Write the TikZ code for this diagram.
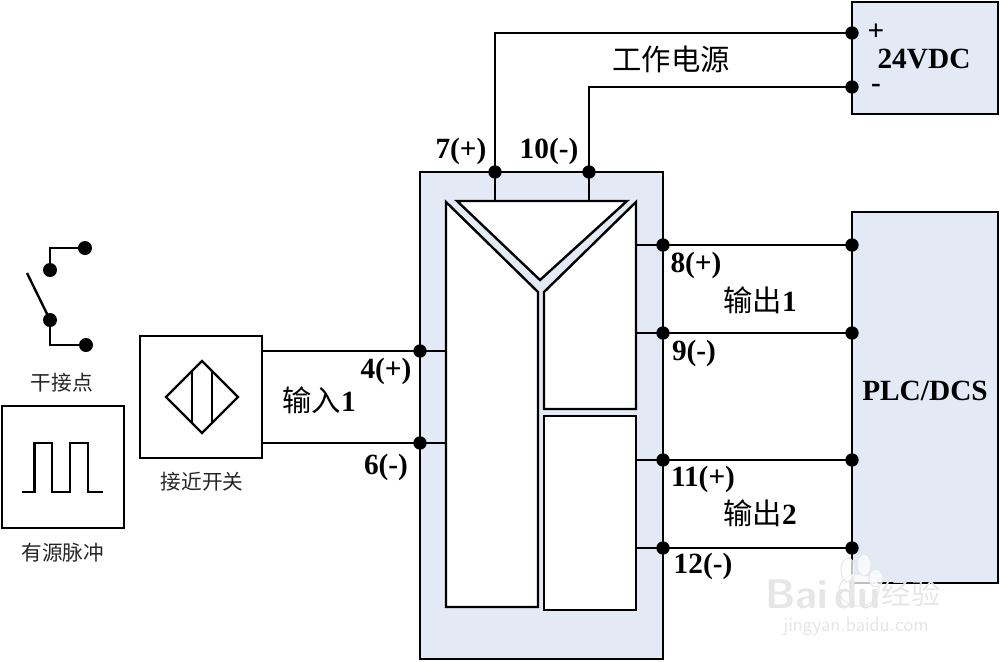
\documentclass[tikz,border=0pt]{standalone}
\usepackage{fontspec}
\setmainfont{Liberation Serif}
\newfontfamily\cjk{Noto Sans CJK SC}
\definecolor{panel}{HTML}{E3EAF6}
\definecolor{wm}{HTML}{E6E6E6}
\tikzset{
  ln/.style={draw=black,line width=1.8pt,line join=miter},
  pan/.style={ln,fill=panel},
  whitebox/.style={ln,fill=white},
  dot/.style={circle,fill=black,draw=none,minimum size=10pt,inner sep=0pt},
  bigdot/.style={circle,fill=black,draw=none,minimum size=10.5pt,inner sep=0pt},
  lab/.style={font=\fontsize{22}{24}\selectfont\bfseries,inner sep=0pt},
  zh/.style={font=\fontsize{22}{24}\selectfont\cjk,inner sep=0pt},
  zhs/.style={font=\fontsize{15.5}{18}\selectfont\cjk,inner sep=0pt,text=black!85},
  paw/.style={draw=wm,line width=0.7pt,fill=white,fill opacity=0.75},
}
\begin{document}
\begin{tikzpicture}[x=0.75pt,y=-0.75pt]
\useasboundingbox (0,0) rectangle (1000,661);
% panels
\path[pan] (852,2) rectangle (998,114);
\path[pan] (852,212) rectangle (998,583);
\path[pan] (420,172) rectangle (663,659);
% named points
\foreach \n/\x/\y in {p7/495/172,p10/589/172,vp/852/33,vm/852/87,a4/420/351,a6/420/443,o8/663/245,o9/663/333,o11/663/460,o12/663/548,b8/852/245,b9/852/333,b11/852/460,b12/852/548}
  \node[dot] (\n) at (\x,\y) {};
\coordinate (t7) at (495,201);
\coordinate (t10) at (589,201);
\coordinate (c7) at (495,33);
\coordinate (c10) at (589,87);
% inner shapes
\path[whitebox] (446,202) -- (538,292) -- (538,607) -- (446,607) -- cycle;
\path[whitebox] (457,201) -- (627,201) -- (540,280) -- cycle;
\path[whitebox] (636,202) -- (544,292) -- (544,409) -- (636,409) -- cycle;
\path[whitebox] (544,416) rectangle (636,610);
% wires
\draw[ln] (p7.center) -- (t7);
\draw[ln] (p10.center) -- (t10);
\draw[ln] (p7.center) -- (c7) -- (vp.center);
\draw[ln] (p10.center) -- (c10) -- (vm.center);
\coordinate (i8) at (636,245);
\coordinate (i9) at (636,333);
\coordinate (i11) at (636,460);
\coordinate (i12) at (636,548);
\draw[ln] (i8) -- (b8.center);
\draw[ln] (i9) -- (b9.center);
\draw[ln] (i11) -- (b11.center);
\draw[ln] (i12) -- (b12.center);
% proximity switch
\node[whitebox,minimum width=91.5pt,minimum height=91.5pt,inner sep=0pt] (prox) at (201,397) {};
\coordinate (s4) at (262,351);
\coordinate (s6) at (262,443);
\coordinate (e4) at (446,351);
\coordinate (e6) at (446,443);
\draw[ln] (s4) -- (e4);
\draw[ln] (s6) -- (e6);
\draw[ln] (166,397) -- (202,361) -- (238,397) -- (202,433) -- cycle;
\draw[ln] (192,371) -- (192,423);
\draw[ln] (212,371) -- (212,423);
% pulse source
\node[whitebox,minimum width=91.5pt,minimum height=91.5pt,inner sep=0pt] (pulse) at (63,467) {};
\draw[ln] (22,492) -- (34.5,492) -- (34.5,443) -- (52,443) -- (52,492) -- (70,492) -- (70,443) -- (88,443) -- (88,492) -- (103,492);
% dry contact
\node[bigdot] (k1) at (50,270) {};
\node[bigdot] (k2) at (85,248) {};
\node[bigdot] (k3) at (50,320) {};
\node[bigdot] (k4) at (86,345) {};
\coordinate (kc1) at (50,248);
\coordinate (kc2) at (50,345);
\coordinate (lev) at (27,273);
\draw[ln] (k1.center) -- (kc1) -- (k2.center);
\draw[ln] (k3.center) -- (kc2) -- (k4.center);
\draw[ln] (lev) -- (k3.center);
% labels
\node[zh] (gz) at (671,59) {工作电源};
\node[lab] (vdc) at (924,59) {24VDC};
\node[lab] (vplus) at (876,32) {+};
\node[lab] (vminus) at (876,88) {-};
\node[lab] (l7) at (461,151) {7(+)};
\node[lab] (l10) at (549,151) {10(-)};
\node[lab] (l4) at (386,371) {4(+)};
\node[lab] (l6) at (386,467) {6(-)};
\node[lab] (l8) at (696,265) {8(+)};
\node[lab] (l9) at (694,353) {9(-)};
\node[lab] (l11) at (703,479) {11(+)};
\node[lab] (l12) at (703,566) {12(-)};
\node[lab] (plc) at (925,391) {PLC/DCS};
\node[zh] (in1) at (319,400) {输入\textbf{\rmfamily 1}};
\node[zh] (out1) at (760,300) {输出\textbf{\rmfamily 1}};
\node[zh] (out2) at (760,513) {输出\textbf{\rmfamily 2}};
\node[zhs] (dry) at (62,383) {干接点};
\node[zhs] (pr) at (202,482) {接近开关};
\node[zhs] (pu) at (63,553) {有源脉冲};
% watermark
\path[paw] (859,590) ellipse [x radius=20,y radius=16];
\path[paw] (848,570) ellipse [x radius=7,y radius=12];
\path[paw] (864,565) ellipse [x radius=7,y radius=11];
\path[paw] (876,578) ellipse [x radius=7,y radius=9];
\node[inner sep=0pt,text=wm,font=\fontsize{31}{33}\selectfont\sffamily\bfseries] (wm1) at (823,594) {Bai\,du};
\node[inner sep=0pt,text=wm,font=\fontsize{22}{24}\selectfont\cjk] (wm2) at (911,593) {经验};
\node[inner sep=0pt,text=wm,font=\fontsize{15.5}{18}\selectfont\sffamily] (wm3) at (856,626) {jingyan.baidu.com};
\end{tikzpicture}
\end{document}
